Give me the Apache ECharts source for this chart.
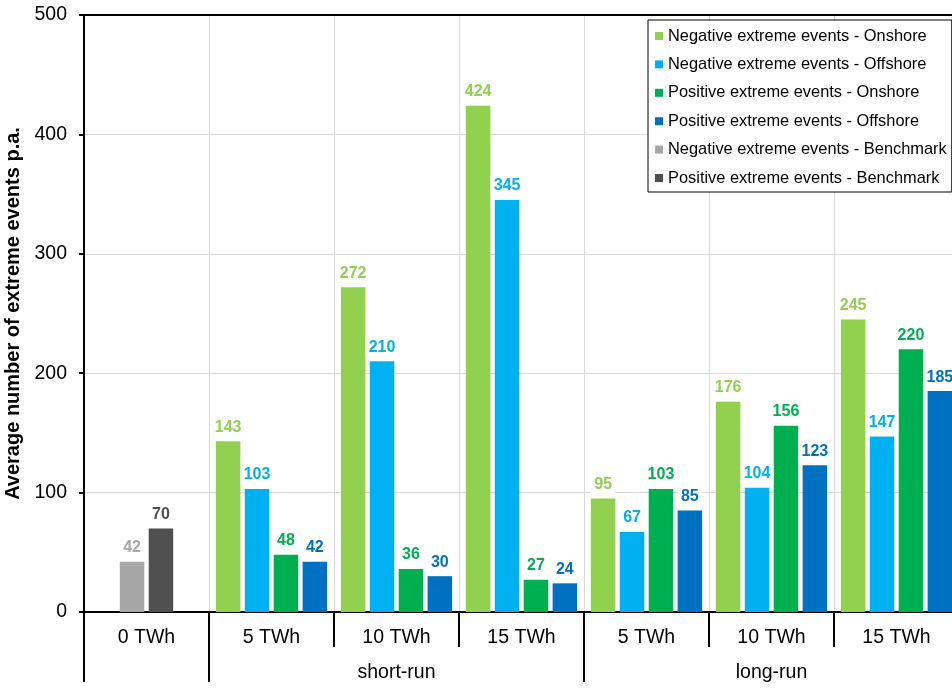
<!DOCTYPE html>
<html>
<head>
<meta charset="utf-8">
<script src="https://cdn.jsdelivr.net/npm/echarts@6/dist/echarts.min.js"></script>
<style>
html,body{margin:0;padding:0;background:#fff;}
#chart{width:952px;height:688px;}
</style>
</head>
<body>
<div id="chart"></div>
<script>
const categories = ['0 TWh', '5 TWh', '10 TWh', '15 TWh', '5 TWh', '10 TWh', '15 TWh'];
const groupNames = ['', 'short-run', 'long-run'];
const groupSpans = [1, 3, 3];
const yTicks = [0, 100, 200, 300, 400, 500];

const negOnshore  = ['-', 143, 272, 424, 95, 176, 245];
const negOffshore = ['-', 103, 210, 345, 67, 104, 147];
const posOnshore  = ['-', 48, 36, 27, 103, 156, 220];
const posOffshore = ['-', 42, 30, 24, 85, 123, 185];
const negBenchmark = [42, '-', '-', '-', '-', '-', '-'];
const posBenchmark = [70, '-', '-', '-', '-', '-', '-'];

const seriesNames = [
  'Negative extreme events - Onshore',
  'Negative extreme events - Offshore',
  'Positive extreme events - Onshore',
  'Positive extreme events - Offshore',
  'Negative extreme events - Benchmark',
  'Positive extreme events - Benchmark'
];
const colors = ['#92D050', '#00B0F0', '#00B050', '#0070C0', '#A6A6A6', '#505050'];

// group axis labels and boundary ticks
const groupLabels = [];
const groupBoundaries = [];
let pos = 0;
groupSpans.forEach(function (span, gi) {
  groupBoundaries.push(pos);
  for (let k = 0; k < span; k++) {
    groupLabels.push(k === Math.floor(span / 2) ? groupNames[gi] : '');
  }
  pos += span;
});
groupBoundaries.push(pos);

const FONT = 'Arial, "Liberation Sans", sans-serif';

function mkSeries(idx, data, axisIdx) {
  return {
    name: seriesNames[idx],
    type: 'bar',
    xAxisIndex: axisIdx,
    data: data,
    barWidth: 24.5,
    barGap: '18%',
    itemStyle: { color: colors[idx] },
    label: {
      show: true,
      position: 'top',
      distance: 4,
      color: colors[idx],
      fontFamily: FONT,
      fontWeight: 'bold',
      fontSize: 16,
      lineHeight: 16,
      backgroundColor: '#fff',
      padding: [2, 3, 2, 3]
    }
  };
}

const chart = echarts.init(document.getElementById('chart'), null, { renderer: 'canvas' });
chart.setOption({
  animation: false,
  backgroundColor: '#fff',
  textStyle: { fontFamily: FONT },
  grid: { left: 84, top: 15, width: 875, height: 597, containLabel: false, outerBoundsMode: 'none' },
  legend: {
    data: seriesNames,
    orient: 'vertical',
    left: 648,
    top: 20,
    icon: 'rect',
    itemWidth: 8,
    itemHeight: 8,
    itemGap: 12.4,
    padding: [8, 5, 6, 7],
    backgroundColor: '#fff',
    borderColor: '#000',
    borderWidth: 1,
    textStyle: { fontFamily: FONT, fontSize: 16.4, color: '#000', lineHeight: 16 }
  },
  xAxis: [
    {
      type: 'category',
      data: categories,
      position: 'bottom',
      axisLine: { show: true, lineStyle: { color: '#000', width: 2 } },
      axisTick: { show: true, length: 35, interval: 0, lineStyle: { color: '#000', width: 2 } },
      axisLabel: { interval: 0, fontSize: 19.5, color: '#000', margin: 16, fontFamily: FONT },
      splitLine: { show: true, interval: 0, lineStyle: { color: '#d9d9d9', width: 1 } }
    },
    {
      type: 'category',
      data: groupLabels,
      position: 'bottom',
      offset: 35,
      axisLine: { show: false },
      axisTick: {
        show: true, length: 35,
        interval: function (index) { return groupBoundaries.indexOf(index) >= 0; },
        lineStyle: { color: '#000', width: 2 }
      },
      axisLabel: { interval: 0, fontSize: 19.5, color: '#000', margin: 16, fontFamily: FONT },
      splitLine: { show: false }
    },
    {
      type: 'category',
      data: categories,
      position: 'top',
      axisLine: { show: true, lineStyle: { color: '#000', width: 2 } },
      axisTick: { show: false },
      axisLabel: { show: false },
      splitLine: { show: false }
    }
  ],
  yAxis: {
    type: 'value',
    min: yTicks[0],
    max: yTicks[yTicks.length - 1],
    interval: yTicks[1] - yTicks[0],
    name: 'Average number of extreme events p.a.',
    nameLocation: 'middle',
    nameGap: 52,
    nameTextStyle: { fontSize: 20, fontWeight: 'bold', color: '#000', fontFamily: FONT },
    axisLine: { show: true, lineStyle: { color: '#000', width: 2 } },
    axisTick: { show: true, length: 5, lineStyle: { color: '#000', width: 2 } },
    axisLabel: { fontSize: 19.5, color: '#000', margin: 17, fontFamily: FONT },
    splitLine: { show: true, lineStyle: { color: '#d9d9d9', width: 1 } }
  },
  series: [
    mkSeries(0, negOnshore, 0),
    mkSeries(1, negOffshore, 0),
    mkSeries(2, posOnshore, 0),
    mkSeries(3, posOffshore, 0),
    mkSeries(4, negBenchmark, 2),
    mkSeries(5, posBenchmark, 2)
  ]
});
</script>
</body>
</html>
